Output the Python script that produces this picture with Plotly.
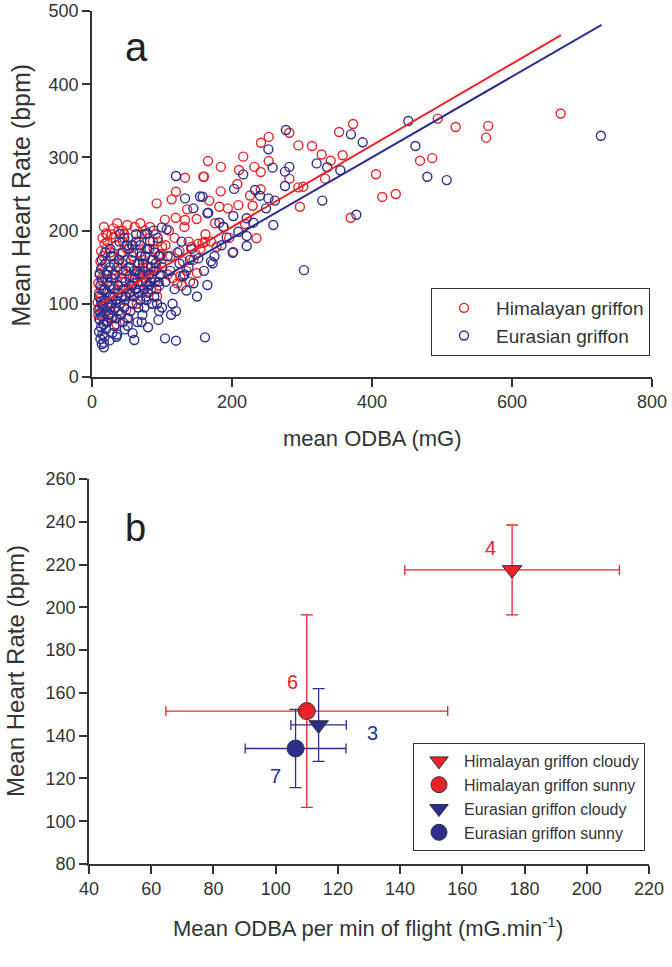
import plotly.graph_objects as go

# ---- panel a : mean ODBA vs heart rate ----
hima_odba = [
    # dense cluster
    9, 11, 8, 12, 10, 13, 9, 14, 11, 15, 12, 16, 13, 18, 15, 20, 10,
    25, 28, 30, 32, 26, 35, 38, 34, 29, 36, 40, 27, 33, 38, 31,
    42, 45, 48, 50, 44, 52, 55, 58, 47, 53, 57, 60, 46, 41, 56, 49,
    62, 65, 68, 70, 72, 75, 78, 63, 67, 74, 77, 80, 64, 71, 79,
    82, 85, 88, 90, 92, 95, 84, 87, 93, 98, 96, 86, 91, 99,
    20, 24, 35, 42, 50,
    17, 22, 28, 36, 44, 52, 61, 69, 76, 83, 94, 100, 58, 66, 73,
    # 100-200 band
    105, 112, 118, 125, 130, 138, 142, 148, 152, 158, 100, 108, 115, 122, 128,
    135, 145, 155, 170, 178, 188, 196, 126, 140, 110, 98, 104, 132, 150, 162,
    # upper spread
    132.9, 159, 120, 113.8, 92.4, 136, 149.5, 119.5, 132.9, 50.5, 30.5, 21.9, 21,
    281.9, 252.4, 241.4, 294.8, 314.3, 328, 216, 252.4, 165.7, 184, 232, 241, 210,
    160, 282, 333, 207.6, 183.8, 241, 294.7, 301.9, 225.7, 167.6, 181.9, 194, 209,
    229.5, 297, 235, 175.7, 218.6, 161.4, 201.9,
    # high ODBA
    669.5, 566, 563, 519.5, 494, 486, 468.6, 434, 414.7, 405.7, 369.5, 373, 353, 358, 341,
]
hima_hr = [
    85, 95, 102, 108, 115, 120, 128, 135, 142, 150, 158, 165, 172, 182, 190, 196, 80,
    110, 125, 140, 155, 170, 180, 160, 135, 100, 118, 148, 88, 95, 200, 190,
    130, 145, 160, 175, 185, 120, 150, 165, 105, 138, 180, 128, 195, 168, 112, 92,
    140, 155, 170, 130, 160, 145, 175, 120, 185, 118, 135, 150, 100, 195, 125,
    140, 160, 175, 130, 150, 165, 120, 185, 110, 140, 125, 100, 195, 155,
    75, 82, 72, 86, 80,
    205, 185, 195, 210, 200, 190, 205, 210, 200, 205, 185, 178, 135, 142, 150,
    180, 165, 190, 172, 158, 185, 178, 168, 182, 183, 150, 140, 135, 128, 125,
    145, 160, 175, 185, 178, 205, 190, 138, 130, 200, 168, 215, 205, 142, 195,
    272.3, 273.6, 253, 242.7, 237.2, 229, 215.8, 217.6, 214.5, 207.6, 203, 194, 175.8,
    333.7, 328, 320, 316.4, 315.6, 304, 301, 295, 295, 287, 287, 280, 282.8,
    273.6, 271, 271, 263.7, 253.6, 256.4, 259, 260, 248, 241, 232.6, 230.4, 234.8,
    234, 232.6, 189.5, 210, 209, 184.8, 171,
    360, 343, 327, 341.5, 353, 299, 295.5, 250, 246, 277, 217.6, 345.6, 334.7, 303, 295.5,
]

eura_odba = [
    # dense cluster
    14, 12, 15, 10, 13, 16, 11, 14, 12, 9, 15, 13, 10, 16, 12, 14, 11, 13,
    18, 20, 22, 24, 26, 18, 21, 25, 28, 23, 19, 27, 29, 17, 24, 30, 22, 26, 20, 28,
    32, 35, 38, 40, 42, 45, 48, 33, 36, 39, 44, 47, 31, 34, 37, 41, 46, 49, 43, 50, 36, 44,
    52, 55, 58, 60, 62, 65, 68, 53, 56, 59, 63, 66, 69, 54, 57, 61, 64, 67, 51, 70, 58, 65,
    72, 75, 78, 80, 82, 85, 88, 73, 76, 79, 83, 86, 89, 74, 77, 81, 84, 87, 90, 92, 95, 98,
    93, 96, 71, 80, 91, 94,
    15, 18, 21, 27, 33, 38, 43, 48, 55, 60, 66, 72, 77, 84, 90,
    14, 19, 26, 31, 39, 46, 53, 58, 63, 69, 76, 82, 88, 97, 100,
    # low heart rate points
    161.4, 120, 104.3, 60.4, 120, 164.8, 17, 17, 94.8, 25, 35,
    # 100-200 band
    105, 112, 118, 125, 130, 138, 145, 152, 160, 170, 108, 115, 135, 142, 128,
    150, 175, 185, 100, 122, 140, 113, 132,
    # upper spread
    120, 132.9, 144.8, 154.3, 166, 99.6, 106.7, 79, 40,
    277, 252, 258, 281.9, 275.7, 216, 321, 336, 275.7, 203, 233, 240, 252, 261.4,
    248.6, 329, 158, 164.8, 201.9, 181.9, 187.6, 221, 230.5, 259, 209, 221, 192.4,
    221, 201, 172.4, 302.8,
    # high ODBA
    452, 462, 479, 506.7, 377.6, 370, 386.7, 354.8, 727,
]
eura_hr = [
    45, 52, 58, 62, 68, 72, 78, 83, 88, 92, 97, 103, 110, 118, 125, 132, 140, 148,
    55, 65, 75, 85, 95, 105, 115, 125, 135, 145, 155, 165, 60, 72, 100, 110, 130, 150, 90, 80,
    70, 80, 90, 100, 110, 120, 130, 140, 150, 160, 170, 65, 120, 105, 125, 85, 95, 145, 155, 180, 58, 75,
    80, 90, 100, 110, 120, 130, 140, 150, 160, 170, 185, 95, 105, 115, 125, 135, 145, 155, 70, 165, 60, 75,
    85, 95, 105, 115, 125, 135, 145, 155, 165, 175, 185, 100, 110, 120, 130, 140, 150, 160, 170, 120, 130, 140,
    100, 90, 75, 68, 155, 190,
    100, 120, 140, 110, 95, 115, 135, 110, 125, 145, 115, 140, 110, 130, 145,
    160, 170, 175, 165, 185, 190, 175, 180, 195, 180, 195, 175, 200, 165, 150,
    54.2, 49.6, 52.8, 50.5, 90, 125.7, 40.5, 47, 78, 50, 55,
    130, 145, 120, 155, 138, 150, 128, 162, 145, 158, 165, 100, 118, 175, 185,
    110, 165, 180, 95, 170, 160, 85, 140,
    274.6, 244, 230.4, 246.6, 224.5, 204.4, 201.7, 196.3, 195.4,
    337.4, 311, 286, 287, 280.5, 276.8, 291.8, 286.5, 261, 257, 255.5, 247.7, 244, 241,
    230.4, 241, 246.3, 223.6, 220, 210.8, 205.3, 216.8, 210.8, 207.6, 198.5, 192.6, 190.8,
    179, 169.8, 155.3, 146,
    349.7, 315.6, 273.6, 269, 221.7, 331.5, 320.6, 282.4, 329.6,
]

# fitted regression lines (end points)
hima_fit_x = [10, 670]
hima_fit_y = [99, 467]
eura_fit_x = [10, 728]
eura_fit_y = [85, 481]

# ---- panel b : group means +- SD ----
groups = ["Himalayan griffon cloudy", "Himalayan griffon sunny",
          "Eurasian griffon cloudy", "Eurasian griffon sunny"]
grp_odba = [176, 110, 113.8, 106.4]
grp_odba_sd = [34.5, 45.3, 8.9, 16.2]
grp_hr = [217.5, 151.5, 145, 134]
grp_hr_sd = [21, 45, 17, 18.3]
grp_n = ["4", "6", "3", "7"]
grp_n_x = [168.9, 105.4, 131.2, 99.8]
grp_n_y = [227.7, 165.1, 141.1, 121.1]

RED = "rgb(232,36,40)"
BLUE = "rgb(44,46,142)"
grp_col = [RED, RED, BLUE, BLUE]
grp_sym = ["triangle-down", "circle", "triangle-down", "circle"]
FONT = "Liberation Sans, Arial, sans-serif"
AX = "#333333"

fig = go.Figure()

fig.add_trace(go.Scatter(x=hima_odba, y=hima_hr, mode="markers", name="Himalayan griffon",
                         marker=dict(symbol="circle-open", size=9, color=RED, line=dict(width=1.4)),
                         xaxis="x", yaxis="y", legend="legend"))
fig.add_trace(go.Scatter(x=eura_odba, y=eura_hr, mode="markers", name="Eurasian griffon",
                         marker=dict(symbol="circle-open", size=9, color=BLUE, line=dict(width=1.4)),
                         xaxis="x", yaxis="y", legend="legend"))
fig.add_trace(go.Scatter(x=hima_fit_x, y=hima_fit_y, mode="lines", line=dict(color=RED, width=2),
                         showlegend=False, xaxis="x", yaxis="y"))
fig.add_trace(go.Scatter(x=eura_fit_x, y=eura_fit_y, mode="lines", line=dict(color=BLUE, width=2),
                         showlegend=False, xaxis="x", yaxis="y"))

for i in range(len(groups)):
    fig.add_trace(go.Scatter(
        x=[grp_odba[i]], y=[grp_hr[i]], mode="markers", name=groups[i],
        marker=dict(symbol=grp_sym[i], size=17, color=grp_col[i], line=dict(color="#333333", width=1)),
        error_x=dict(type="data", array=[grp_odba_sd[i]], color=grp_col[i], thickness=1.3, width=5),
        error_y=dict(type="data", array=[grp_hr_sd[i]], color=grp_col[i], thickness=1.3, width=6),
        xaxis="x2", yaxis="y2", legend="legend2"))

axis_style = dict(showline=True, linecolor=AX, linewidth=1.5, ticks="outside", ticklen=8,
                  tickwidth=1.5, tickcolor=AX, showgrid=False, zeroline=False, mirror=False,
                  automargin=False, tickfont=dict(family=FONT, size=18, color=AX))

annotations = []
for i in range(len(groups)):
    annotations.append(dict(x=grp_n_x[i], y=grp_n_y[i], xref="x2", yref="y2", text=grp_n[i],
                            showarrow=False, font=dict(family=FONT, size=20, color=grp_col[i])))
annotations += [
    dict(x=64, y=451, xref="x", yref="y", text="a", showarrow=False,
         font=dict(family=FONT, size=40, color="#222222")),
    dict(x=55, y=237, xref="x2", yref="y2", text="b", showarrow=False,
         font=dict(family=FONT, size=38, color="#222222")),
    dict(x=372 / 672, y=1 - 439 / 967, text="mean ODBA (mG)",
         font=dict(family=FONT, size=22, color=AX)),
    dict(x=20 / 672, y=1 - 195.5 / 967, text="Mean Heart Rate (bpm)", textangle=-90,
         font=dict(family=FONT, size=25, color=AX)),
    dict(x=15 / 672, y=1 - 671 / 967, text="Mean Heart Rate (bpm)", textangle=-90,
         font=dict(family=FONT, size=24, color=AX)),
    dict(x=368 / 672, y=1 - 927 / 967, text="Mean ODBA per min of flight (mG.min<sup>-1</sup>)",
         font=dict(family=FONT, size=22, color=AX)),
]
for a in annotations[len(groups) + 2:]:
    a.update(xref="paper", yref="paper", xanchor="center", yanchor="middle", showarrow=False)

fig.update_layout(
    width=672, height=967, margin=dict(l=0, r=0, t=0, b=0, autoexpand=False),
    paper_bgcolor="white", plot_bgcolor="white",
    xaxis=dict(domain=[92 / 672, 652 / 672], range=[0, 800], tickvals=[0, 200, 400, 600, 800],
               anchor="y", **axis_style),
    yaxis=dict(domain=[1 - 377 / 967, 1 - 11 / 967], range=[0, 500], dtick=100,
               anchor="x", **axis_style),
    xaxis2=dict(domain=[89 / 672, 649 / 672], range=[40, 220], dtick=20,
                anchor="y2", **axis_style),
    yaxis2=dict(domain=[1 - 864 / 967, 1 - 479 / 967], range=[80, 260], dtick=20,
                anchor="x2", **axis_style),
    legend=dict(x=431 / 672, y=1 - 288 / 967, xanchor="left", yanchor="top",
                bordercolor=AX, borderwidth=1, bgcolor="white", itemwidth=54,
                font=dict(family=FONT, size=19, color=AX)),
    legend2=dict(x=413 / 672, y=1 - 743 / 967, xanchor="left", yanchor="top",
                 bordercolor=AX, borderwidth=1, bgcolor="white", itemwidth=40,
                 font=dict(family=FONT, size=16, color=AX)),
    annotations=annotations,
    showlegend=True,
)

# page body has a default 8px margin; drop it so the figure sits at the window corner
fig.write_html("out.html", config={"displayModeBar": False},
               post_script="document.body.style.margin = '0';")
